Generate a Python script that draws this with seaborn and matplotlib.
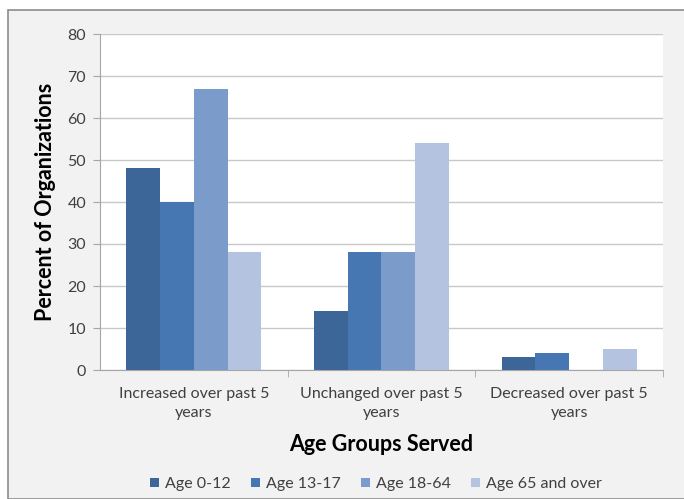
import matplotlib
matplotlib.use("Agg")
import matplotlib.pyplot as plt
import seaborn as sns
import pandas as pd
from matplotlib.patches import Rectangle

categories = ["Increased over past 5\nyears", "Unchanged over past 5\nyears", "Decreased over past 5\nyears"]
series = ["Age 0-12", "Age 13-17", "Age 18-64", "Age 65 and over"]
age_0_12 = [48, 14, 3]
age_13_17 = [40, 28, 4]
age_18_64 = [67, 28, 0]
age_65_over = [28, 54, 5]
colors = ["#3c6598", "#4677b3", "#7b9bcb", "#b4c3df"]
y_ticks = [0, 10, 20, 30, 40, 50, 60, 70, 80]

rows = []
for name, vals in zip(series, [age_0_12, age_13_17, age_18_64, age_65_over]):
    for cat, v in zip(categories, vals):
        rows.append({"category": cat, "group": name, "value": v})
df = pd.DataFrame(rows)

sns.set_style("white")
plt.rcParams["font.family"] = ["Lato", "DejaVu Sans"]

fig = plt.figure(figsize=(6.84, 4.99), dpi=100)
fig.patch.set_facecolor("white")
fig.patches.append(Rectangle((8 / 684, 0), 1, 1 - 10 / 499, transform=fig.transFigure,
                             facecolor="#f2f2f2", edgecolor="#8c8c8c", linewidth=1.2, zorder=-10))

ax = fig.add_axes([100 / 684, 1 - 370 / 499, 563 / 684, 336 / 499])
ax.set_facecolor("white")
sns.barplot(data=df, x="category", y="value", hue="group", order=categories, hue_order=series,
            palette=colors, width=0.72, gap=0, saturation=1, ax=ax, legend=True,
            linewidth=0, edgecolor="none")

ax.set_ylim(0, 80)
ax.set_yticks(y_ticks)
ax.set_xlim(-0.5, 2.5)
ax.yaxis.grid(True, color="#c8c8c8", linewidth=1)
ax.set_axisbelow(True)
for s in ["top", "right"]:
    ax.spines[s].set_visible(False)
ax.spines["left"].set_color("#a6a6a6")
ax.spines["bottom"].set_color("#a6a6a6")
ax.tick_params(axis="y", length=5, color="#a6a6a6", labelsize=11.5, labelcolor="#404040", left=True, pad=5)
ax.tick_params(axis="x", length=0, labelsize=11.5, labelcolor="#404040", pad=12)
for t in ax.get_xticklabels():
    t.set_linespacing(1.45)
ax.set_xticks([0.5, 1.5, 2.5], minor=True)
ax.tick_params(axis="x", which="minor", length=5, color="#a6a6a6", bottom=True)

ax.set_ylabel("Percent of Organizations", fontsize=15.5, fontweight="bold", color="black", labelpad=8)
ax.set_xlabel("Age Groups Served", fontsize=15.5, fontweight="bold", color="black", labelpad=10)

handles, labels = ax.get_legend_handles_labels()
ax.legend(handles, labels, loc="center", bbox_to_anchor=(376 / 684, 1 - 484 / 499),
          bbox_transform=fig.transFigure, ncol=4, frameon=False, fontsize=11.5,
          handlelength=0.55, handleheight=0.55, handletextpad=0.35, columnspacing=1.3,
          labelcolor="#404040")

fig.savefig("out.png", dpi=100)
